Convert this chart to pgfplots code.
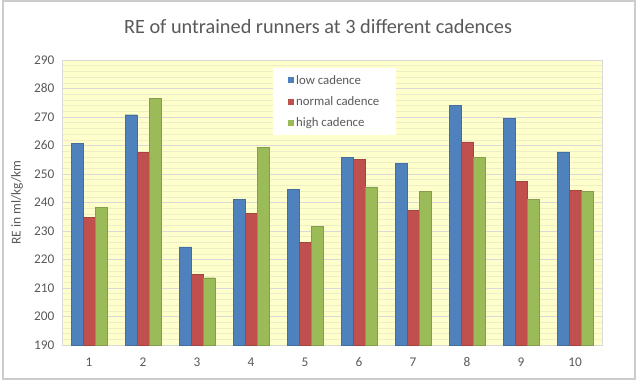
\documentclass[border=0pt]{standalone}
\usepackage{fontspec}
\setmainfont{Carlito}
\usepackage{pgfplots}
\pgfplotsset{compat=1.18}
\definecolor{cblue}{HTML}{4F81BD}
\definecolor{cred}{HTML}{C0504D}
\definecolor{cgreen}{HTML}{9BBB59}
\definecolor{bgyellow}{HTML}{FFFFCC}
\definecolor{txtgray}{HTML}{595959}
\definecolor{majgrid}{HTML}{D9D9D9}
\definecolor{mingrid}{HTML}{EDEDC8}
\begin{document}
\begin{tikzpicture}[x=1pt,y=1pt]
\path[use as bounding box] (0,0) rectangle (639,381);
\draw[color=gray!40, line width=1.5pt] (3,2) rectangle (635,380);
\node[font=\fontsize{20.3}{23}\selectfont, text=txtgray] at (318,354) {RE of untrained runners at 3 different cadences};
\begin{axis}[
  at={(62pt,36pt)}, anchor=south west,
  scale only axis, width=540pt, height=285pt,
  ybar=0pt, bar width=12pt,
  ymin=190, ymax=290, xmin=0.5, xmax=10.5,
  xtick={1,...,10}, ytick={190,200,...,290},
  minor y tick num=4,
  ymajorgrids, yminorgrids,
  major grid style={draw=majgrid, line width=0.8pt},
  minor grid style={draw=mingrid, line width=0.6pt},
  axis background/.style={fill=bgyellow},
  axis line style={draw=majgrid, line width=0.8pt},
  major tick style={draw=none}, minor tick style={draw=none},
  tick label style={font=\fontsize{13.3}{15}\selectfont, text=txtgray},
  /pgf/number format/assume math mode=true,
  yticklabel style={xshift=-4pt},
  xticklabel style={yshift=-5pt},
  ylabel={RE in ml/kg/km},
  every axis y label/.style={at={(rel axis cs:-0.0833,0.5)}, rotate=90, anchor=center,
    font=\fontsize{13.5}{15}\selectfont, text=txtgray},
  legend style={at={(rel axis cs:0.3907,0.972)}, anchor=north west, draw=none, fill=white,
    font=\fontsize{12.8}{14}\selectfont, text=txtgray, inner xsep=15pt, inner ysep=5pt,
    row sep=7pt, legend cell align=left},
  legend image code/.code={\path[#1, draw=none] (0pt,-3pt) rectangle (6pt,3pt);},
]
\addplot[fill=cblue, draw=cblue!85!black] coordinates {(1,260.7) (2,270.8) (3,224.4) (4,241.0) (5,244.5) (6,255.9) (7,253.7) (8,274.2) (9,269.5) (10,257.8)};
\addplot[fill=cred, draw=cred!85!black] coordinates {(1,234.8) (2,257.6) (3,214.7) (4,236.3) (5,225.9) (6,255.2) (7,237.3) (8,261.3) (9,247.4) (10,244.3)};
\addplot[fill=cgreen, draw=cgreen!85!black] coordinates {(1,238.3) (2,276.5) (3,213.6) (4,259.4) (5,231.7) (6,245.5) (7,244.0) (8,255.9) (9,241.0) (10,244.0)};
\legend{low cadence, normal cadence, high cadence}
\end{axis}
\end{tikzpicture}
\end{document}
